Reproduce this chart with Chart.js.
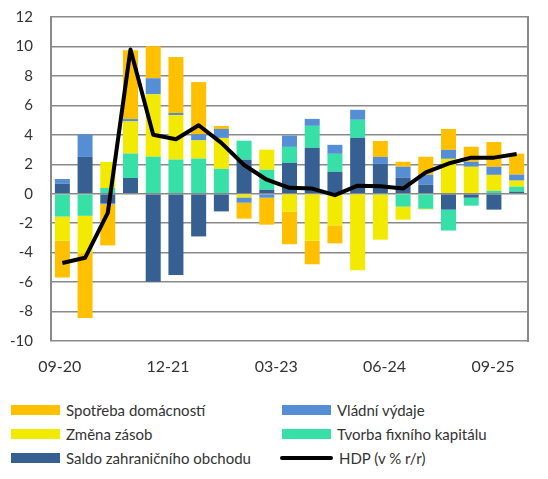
<!DOCTYPE html>
<html>
<head>
<meta charset="utf-8">
<script src="https://cdn.jsdelivr.net/npm/chart.js@4"></script>
<style>
  body { margin: 0; background: #fff; font-family: Lato, "Open Sans", sans-serif; }
  #wrap { position: relative; width: 548px; height: 479px; }
  #legend { position: absolute; left: 11px; top: 398px; width: 530px;
            display: grid; grid-template-columns: 271px 259px; grid-auto-rows: 24px; }
  .item { display: flex; align-items: center; font-size: 15px; color: #333; }
  .swatch { width: 49px; height: 10px; margin-right: 6px; }
  .swatch.line { height: 4px; border-radius: 2px; }
</style>
</head>
<body>
<div id="wrap">
  <canvas id="chart" width="548" height="380"></canvas>
  <div id="legend"></div>
</div>
<script>
var quarters = ['09-20', '12-20', '03-21', '06-21', '09-21', '12-21', '03-22', '06-22', '09-22', '12-22',
                '03-23', '06-23', '09-23', '12-23', '03-24', '06-24', '09-24', '12-24', '03-25', '06-25', '09-25'];

// contributions to GDP growth (p.b.)
var saldo    = [0.68, 2.5, -0.64, 1.07, -5.98, -5.52, -2.9, -1.2, 2.31, 0.27, 2.1, 3.12, 1.49, 3.8, 2.03, 1.08, 0.61, -1.08, -0.27, -1.08, 0.14];
var tvorba   = [-1.55, -1.5, 0.39, 1.66, 2.52, 2.32, 2.39, 1.69, 1.29, 1.36, 1.08, 1.49, 1.22, 1.22, -0.07, -0.88, -1.02, -1.42, -0.54, 0.2, 0.34];
var zmena    = [-1.64, -2.55, 1.77, 2.18, 4.23, 3.02, 1.23, 2.1, -0.25, 1.36, -1.22, -3.19, -2.15, -5.2, -3.05, -0.88, -0.05, 2.37, 1.83, 1.08, 0.41];
var vladni   = [0.32, 1.52, -0.07, 0.16, 1.09, 0.14, 0.41, 0.61, -0.36, -0.27, 0.77, 0.47, 0.61, 0.68, 0.47, 0.75, 0.68, 0.61, 0.34, 0.54, 0.41];
var spotreba = [-2.5, -4.39, -2.8, 4.68, 2.18, 3.8, 3.55, 0.2, -1.08, -1.83, -2.21, -1.6, -1.22, 0, 1.08, 0.34, 1.22, 1.42, 1.02, 1.69, 1.42];
var hdp      = [-4.7, -4.35, -1.3, 9.8, 4.0, 3.7, 4.65, 3.45, 1.95, 0.95, 0.4, 0.35, -0.1, 0.55, 0.5, 0.35, 1.45, 2.05, 2.45, 2.45, 2.7];

var yTicks = [-10, -8, -6, -4, -2, 0, 2, 4, 6, 8, 10, 12];
var labelIdx = [0, 5, 10, 15, 20];

var gridColor = '#8a8a8a';
var textColor = '#333';
var font = { family: 'Lato, "Open Sans", sans-serif', size: 15 };
var xFont = { family: 'Lato, "Open Sans", sans-serif', size: 16 };

function bar(label, data, color) {
    return { type: 'bar', label: label, data: data, backgroundColor: color, borderWidth: 0,
             stack: 'gdp', order: 1, categoryPercentage: 0.66, barPercentage: 1 };
}

var datasets = [
    bar('Saldo zahraničního obchodu', saldo, '#376092'),
    bar('Tvorba fixního kapitálu', tvorba, '#36e0a6'),
    bar('Změna zásob', zmena, '#f2ea00'),
    bar('Vládní výdaje', vladni, '#558ed5'),
    bar('Spotřeba domácností', spotreba, '#ffc000'),
    { type: 'line', label: 'HDP (v % r/r)', data: hdp, borderColor: '#000', backgroundColor: '#000',
      borderWidth: 4, pointRadius: 0, tension: 0, stack: 'hdp', order: 0, borderJoinStyle: 'round' }
];

var chart = new Chart(document.getElementById('chart'), {
    data: { labels: quarters, datasets: datasets },
    options: {
        responsive: false,
        animation: false,
        layout: { padding: { left: 10, right: 20, top: 17, bottom: 4 } },
        plugins: { legend: { display: false }, tooltip: { enabled: false } },
        scales: {
            x: { type: 'category', stacked: true, display: false },
            // label axis: Excel places the date labels on a slightly tighter step than the bars
            xl: {
                type: 'linear', position: 'bottom', min: -0.40, max: 21.62,
                grid: { display: false, drawTicks: false }, border: { display: false },
                afterBuildTicks: function (s) { s.ticks = labelIdx.map(function (v) { return { value: v }; }); },
                afterFit: function (s) { s.height = 35; },
                ticks: { padding: 16, font: xFont, color: textColor, maxRotation: 0, autoSkip: false,
                         callback: function (v) { return quarters[v]; } }
            },
            y: {
                stacked: true, min: -10, max: 12,
                afterBuildTicks: function (s) { s.ticks = yTicks.map(function (v) { return { value: v }; }); },
                afterFit: function (s) { s.width = 41; },
                // invisible tick marks keep the labels away from the axis without padding the top
                grid: { color: gridColor, lineWidth: 1.5, drawTicks: true, tickLength: 17, tickColor: 'rgba(0,0,0,0)' },
                border: { color: gridColor, width: 2 },
                ticks: { padding: 1, font: font, color: textColor }
            },
            yR: {
                position: 'right', min: -10, max: 12,
                afterFit: function (s) { s.width = 0; },
                grid: { display: false, drawTicks: false },
                border: { color: gridColor, width: 2 },
                ticks: { display: false, padding: 0 }
            }
        }
    }
});

// legend in two columns, same order as the original
var legendOrder = [4, 3, 2, 1, 0, 5];
var legend = document.getElementById('legend');
legendOrder.forEach(function (i) {
    var ds = chart.data.datasets[i];
    var item = document.createElement('div');
    item.className = 'item';
    var sw = document.createElement('span');
    sw.className = ds.type === 'line' ? 'swatch line' : 'swatch';
    sw.style.background = ds.type === 'line' ? ds.borderColor : ds.backgroundColor;
    if (ds.type === 'line') { sw.style.marginLeft = '-2px'; sw.style.width = '53px'; }
    item.appendChild(sw);
    item.appendChild(document.createTextNode(ds.label));
    legend.appendChild(item);
});
</script>
</body>
</html>
